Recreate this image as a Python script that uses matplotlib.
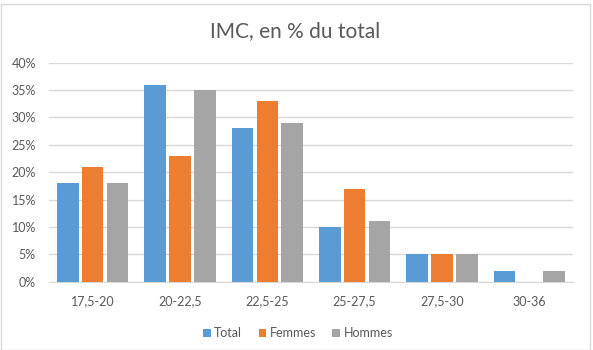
import matplotlib
matplotlib.use("Agg")
import matplotlib.pyplot as plt
import numpy as np
from matplotlib.patches import Rectangle

categories = ["17,5-20", "20-22,5", "22,5-25", "25-27,5", "27,5-30", "30-36"]
total = [18, 36, 28, 10, 5, 2]
femmes = [21, 23, 33, 17, 5, 0]
hommes = [18, 35, 29, 11, 5, 2]
series = ["Total", "Femmes", "Hommes"]
colors = ["#5B9BD5", "#ED7D31", "#A5A5A5"]

plt.rcParams['font.family'] = ['Lato', 'DejaVu Sans']

fig = plt.figure(figsize=(5.93, 3.5), dpi=100)
ax = fig.add_axes([49 / 593, 68.3 / 350, 524 / 593, 219 / 350])

x = np.arange(len(categories))
w = 0.246
off = 0.285
for i, (vals, name, c) in enumerate(zip([total, femmes, hommes], series, colors)):
    ax.bar(x + (i - 1) * off, vals, width=w, color=c, label=name, zorder=3)

ax.set_xlim(-0.5, len(categories) - 0.5)
ax.set_ylim(0, 40)
ax.set_yticks(range(0, 41, 5))
ax.set_yticklabels([f"{v}%" for v in range(0, 41, 5)])
ax.set_xticks(x)
ax.set_xticklabels(categories)
ax.grid(axis='y', color="#D9D9D9", linewidth=1, zorder=0)
for s in ["top", "right", "left"]:
    ax.spines[s].set_visible(False)
ax.spines["bottom"].set_color("#D9D9D9")
ax.tick_params(axis='both', length=0, colors="#595959", labelsize=9)
ax.tick_params(axis='x', pad=10)
ax.tick_params(axis='y', pad=9.4)

fig.text(295 / 593, 1 - 36.7 / 350, "IMC, en % du total", ha='center', va='baseline',
         fontsize=15, color="#595959")

fig.legend(*ax.get_legend_handles_labels(), loc='center', bbox_to_anchor=(298 / 593, 17 / 350),
           ncol=3, frameon=False, fontsize=9, labelcolor="#595959",
           handlelength=0.6, handleheight=0.6, handletextpad=0.3, columnspacing=1.3)

fig.patches.append(Rectangle((0.5 / 593, 0.5 / 350), 589.5 / 593, 346 / 350, transform=fig.transFigure,
                             fill=False, edgecolor="#D9D9D9", linewidth=1))

fig.savefig("out.png", dpi=100, facecolor="white")
